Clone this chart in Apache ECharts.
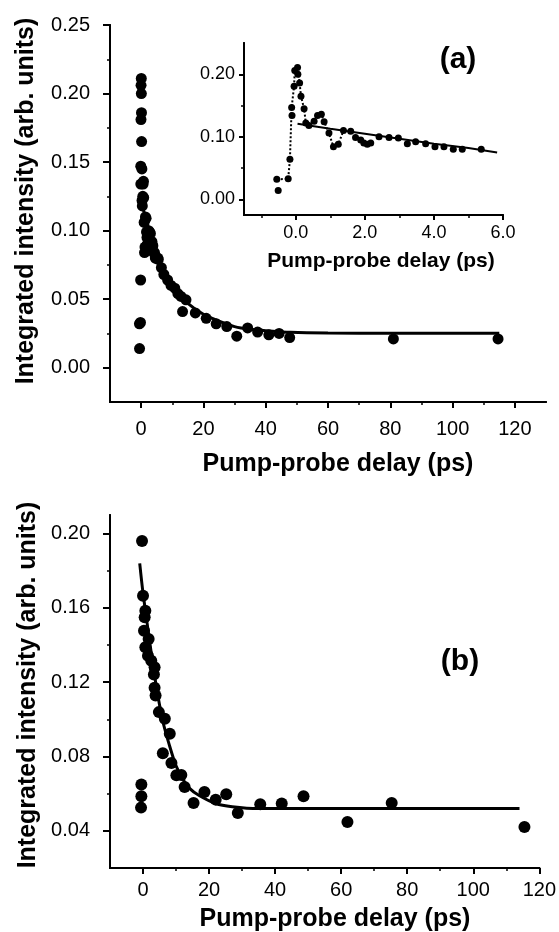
<!DOCTYPE html>
<html><head><meta charset="utf-8">
<script src="https://cdn.jsdelivr.net/npm/echarts@6/dist/echarts.min.js"></script>
<style>html,body{margin:0;padding:0;background:#fff}#c{width:559px;height:932px}</style>
</head><body><div id="c"></div>
<script>
// ---------- Panel (a) inset: early delays (ps) ----------
var insetT = [-0.55,-0.51,-0.22,-0.17,-0.12,-0.11,-0.05,-0.03,0.05,0.06,0.11,0.15,0.24,0.29,0.38,0.53,0.63,0.74,0.82,0.96,1.09,1.23,1.38,1.59,1.73,1.88,1.97,2.07,2.17,2.41,2.70,2.97,3.23,3.47,3.76,4.03,4.29,4.56,4.82,5.37];
var insetV = [0.032,0.014,0.033,0.064,0.147,0.134,0.181,0.206,0.211,0.200,0.186,0.165,0.145,0.122,0.118,0.125,0.134,0.136,0.124,0.106,0.084,0.088,0.110,0.109,0.099,0.095,0.090,0.088,0.090,0.100,0.099,0.098,0.089,0.092,0.089,0.084,0.084,0.080,0.080,0.080];
// dotted guide through the early points
var dotT = [-0.55,-0.22,-0.17,-0.12,-0.05,-0.03,0.05,0.11,0.15,0.24,0.29,0.38,0.53,0.63,0.74,0.82,0.96,1.09,1.23,1.38];
var dotV = [0.032,0.033,0.064,0.147,0.181,0.206,0.211,0.186,0.165,0.145,0.122,0.118,0.125,0.134,0.136,0.124,0.106,0.084,0.088,0.110];
// inset fit
var fitInsetT = [0.05,1,2,3,4,5,5.83];
var fitInsetV = [0.121,0.113,0.105,0.097,0.089,0.082,0.075];

// ---------- Panel (a) main: longer delays (ps) ----------
var longAT = [5.5,6.5,7.3,8.5,9.6,10.8,11.8,12.8,14.4,13.3,17.4,20.9,24.1,27.5,30.7,34.2,37.4,41.0,44.3,47.7,81.0,114.6];
var longAV = [0.079,0.073,0.068,0.064,0.060,0.058,0.054,0.052,0.0495,0.041,0.040,0.036,0.032,0.030,0.023,0.029,0.026,0.024,0.025,0.022,0.021,0.021];
var fitAT = [0,1,2,3,4,5,6,8,10,12,15,20,25,30,35,40,48,60,80,115];
var fitAV = [0.121,0.113,0.105,0.097,0.090,0.084,0.078,0.069,0.061,0.055,0.047,0.039,0.034,0.030,0.028,0.027,0.0258,0.0253,0.0252,0.0252];

// ---------- Panel (b) ----------
var bT = [-0.3,-0.5,-0.5,-0.6,0.0,0.3,0.5,0.7,0.7,1.5,1.7,2.5,3.3,3.5,3.5,3.8,4.8,6.0,6.6,8.1,8.6,10.1,11.6,12.6,15.3,18.6,22.0,25.2,28.7,35.5,42.0,48.6,61.9,75.3,115.5];
var bV = [0.196,0.065,0.0586,0.0525,0.1665,0.1477,0.155,0.1585,0.1388,0.1343,0.1433,0.1316,0.1241,0.128,0.117,0.1128,0.1039,0.0818,0.1003,0.0923,0.0765,0.0699,0.0700,0.0636,0.055,0.0609,0.0568,0.0597,0.0496,0.0543,0.0547,0.0586,0.0448,0.055,0.0421];
var fitBT = [-1.0,0,2,4,6,8,10,12,14,17,22,27,35,50,114];
var fitBV = [0.184,0.168,0.142,0.118,0.099,0.086,0.075,0.068,0.063,0.059,0.0547,0.053,0.052,0.052,0.052];

// ---------- tick values ----------
var aXMajor = [0,20,40,60,80,100,120], aXMinor = [10,30,50,70,90,110];
var aYMajor = [0,0.05,0.10,0.15,0.20,0.25], aYMinor = [0.025,0.075,0.125,0.175,0.225];
var iXMajor = [0,2,4,6], iXMinor = [-1,1,3,5];
var iYMajor = [0,0.10,0.20], iYMinor = [0.05,0.15];
var bXMajor = [0,20,40,60,80,100,120], bXMinor = [10,30,50,70,90,110];
var bYMajor = [0.04,0.08,0.12,0.16,0.20], bYMinor = [0.06,0.10,0.14,0.18];

// ---------- titles ----------
var yTitle = 'Integrated intensity (arb. units)';
var xTitle = 'Pump-probe delay (ps)';

function pairs(a, b){ return a.map(function(v,i){ return [v, b[i]]; }); }

var FONT = '"Liberation Sans", Arial, Helvetica, sans-serif';

function axisPair(kind, grid, min, max, major, minor, fmt, fs, margin, majLen, minLen){
  var pos = kind === 'x' ? 'bottom' : 'left';
  var base = {
    type:'value', gridIndex:grid, min:min, max:max, position:pos,
    splitLine:{show:false},
    axisLine:{show:true, onZero:false, lineStyle:{color:'#000', width:2}}
  };
  var maj = Object.assign({}, base, {
    axisTick:{show:true, inside:false, length:majLen, customValues:major, lineStyle:{color:'#000', width:2}},
    axisLabel:{show:true, customValues:major, margin:margin, color:'#000', fontSize:fs, fontFamily:FONT, formatter:fmt}
  });
  var mnr = Object.assign({}, base, {
    axisTick:{show:true, inside:false, length:minLen, customValues:minor, lineStyle:{color:'#000', width:1.5}},
    axisLabel:{show:false}
  });
  return [maj, mnr];
}

var f2 = function(v){ return v.toFixed(2); };
var f1 = function(v){ return v.toFixed(1); };
var f0 = function(v){ return String(Math.round(v)); };

var xa = [].concat(
  axisPair('x',0,-10,130,aXMajor,aXMinor,f0,20,17,6,3),
  axisPair('x',1,-1.5,6,iXMajor,iXMinor,f1,18,9,5,3),
  axisPair('x',2,-10,120,bXMajor,bXMinor,f0,20,12,6,3)
);
var ya = [].concat(
  axisPair('y',0,-0.025,0.25,aYMajor,aYMinor,f2,20,20,7,3),
  axisPair('y',1,-0.025,0.25,iYMajor,iYMinor,f2,18,9,5,3),
  axisPair('y',2,0.02,0.21,bYMajor,bYMinor,f2,20,20,7,3)
);

function txt(x, y, s, size, rot){
  return {type:'text', x:x, y:y, rotation:rot||0, z:100,
    style:{text:s, fill:'#000', fontSize:size, fontWeight:'bold', fontFamily:FONT,
      align:'center', verticalAlign:'middle', textAlign:'center', textVerticalAlign:'middle'}};
}

var dot = {color:'#000', opacity:1};

var chart = echarts.init(document.getElementById('c'), null, {renderer:'canvas'});
chart.setOption({
  animation:false,
  backgroundColor:'#fff',
  grid:[
    {left:110, top:25, width:436, height:377},
    {left:244, top:43, width:259, height:172},
    {left:110, top:515, width:430, height:353}
  ],
  xAxis: xa,
  yAxis: ya,
  graphic: [
    txt(26, 201, yTitle, 25, Math.PI/2),
    txt(338, 464, xTitle, 25, 0),
    txt(381, 261, xTitle, 21, 0),
    txt(458, 60, '(a)', 30, 0),
    txt(28, 685, yTitle, 25, Math.PI/2),
    txt(335, 919, xTitle, 25, 0),
    txt(460, 662, '(b)', 30, 0)
  ],
  series:[
    {type:'line', xAxisIndex:0, yAxisIndex:0, data:pairs(fitAT, fitAV), showSymbol:false, smooth:0.3,
      lineStyle:{color:'#000', width:3}, z:2},
    {type:'scatter', xAxisIndex:0, yAxisIndex:0, data:pairs(insetT, insetV).concat(pairs(longAT, longAV)),
      symbol:'circle', symbolSize:11, itemStyle:dot, z:3},
    {type:'line', xAxisIndex:2, yAxisIndex:2, data:pairs(dotT, dotV), showSymbol:false,
      lineStyle:{color:'#000', width:2, type:[2,2]}, z:2},
    {type:'line', xAxisIndex:2, yAxisIndex:2, data:pairs(fitInsetT, fitInsetV), showSymbol:false,
      lineStyle:{color:'#000', width:2}, z:2},
    {type:'scatter', xAxisIndex:2, yAxisIndex:2, data:pairs(insetT, insetV),
      symbol:'circle', symbolSize:7, itemStyle:dot, z:3},
    {type:'line', xAxisIndex:4, yAxisIndex:4, data:pairs(fitBT, fitBV), showSymbol:false, smooth:0.3,
      lineStyle:{color:'#000', width:3}, z:2},
    {type:'scatter', xAxisIndex:4, yAxisIndex:4, data:pairs(bT, bV),
      symbol:'circle', symbolSize:12, itemStyle:dot, z:3}
  ]
});
</script></body></html>
